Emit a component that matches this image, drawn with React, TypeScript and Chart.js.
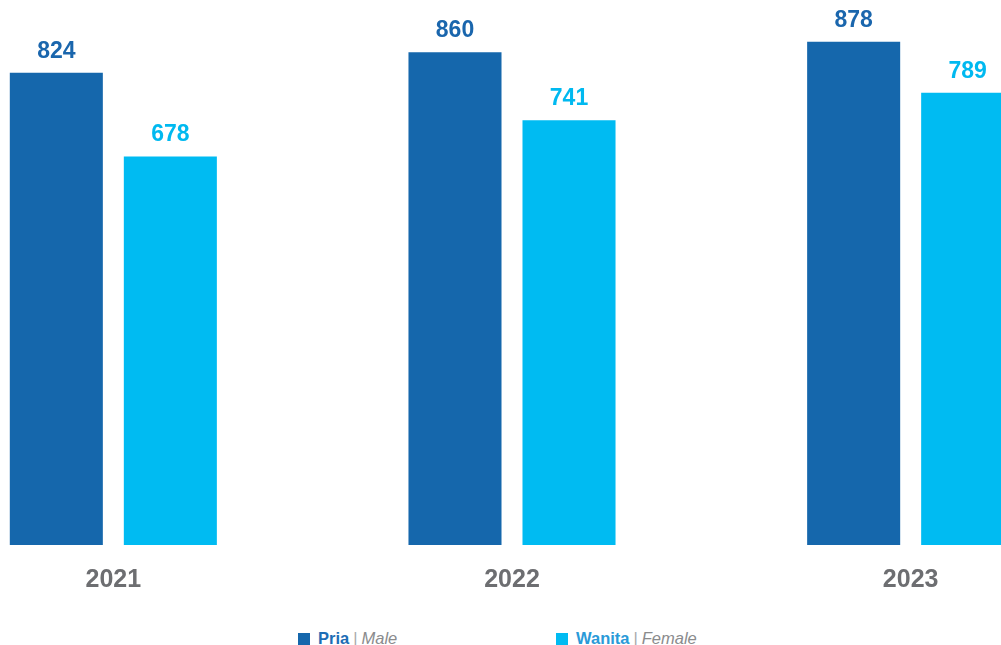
import React, { useEffect, useRef } from "react";
import { Chart, registerables } from "chart.js";

Chart.register(...registerables);

const years = ["2021", "2022", "2023"];
const maleValues = [824, 860, 878];
const femaleValues = [678, 741, 789];

const DARK = "#1567ac";
const LIGHT = "#00bbf2";

const valueLabels = {
  id: "valueLabels",
  afterDatasetsDraw(chart: any) {
    const ctx = chart.ctx;
    ctx.save();
    ctx.font = "bold 23px 'Liberation Sans', Arial, sans-serif";
    ctx.textAlign = "center";
    ctx.textBaseline = "alphabetic";
    chart.data.datasets.forEach((ds: any, i: number) => {
      const meta = chart.getDatasetMeta(i);
      ctx.fillStyle = ds.labelColor;
      meta.data.forEach((el: any, j: number) => {
        ctx.fillText(String(ds.data[j]), el.x, el.y - 15);
      });
    });
    ctx.restore();
  },
};

export default function App() {
  const ref = useRef<HTMLCanvasElement>(null);

  useEffect(() => {
    if (!ref.current) return;
    const chart = new Chart(ref.current, {
      type: "bar",
      data: {
        labels: years,
        datasets: [
          {
            label: "Pria",
            data: maleValues,
            backgroundColor: DARK,
            labelColor: "#1a66ad",
            barPercentage: 0.816,
            categoryPercentage: 0.572,
          } as any,
          {
            label: "Wanita",
            data: femaleValues,
            backgroundColor: LIGHT,
            labelColor: "#00b9f0",
            barPercentage: 0.816,
            categoryPercentage: 0.572,
          } as any,
        ],
      },
      options: {
        responsive: false,
        animation: false,
        layout: { padding: 0 },
        plugins: {
          legend: { display: false },
          tooltip: { enabled: false },
        },
        scales: {
          x: {
            grid: { display: false, drawTicks: false },
            border: { display: false },
            ticks: {
              padding: 20,
              color: "#6d6e71",
              font: { family: "'Liberation Sans', Arial, sans-serif", size: 25, weight: "bold", lineHeight: 1.2 },
            },
          },
          y: {
            display: false,
            min: 0,
            max: 951,
          },
        },
      },
      plugins: [valueLabels],
    });
    return () => chart.destroy();
  }, []);

  const font = "'Liberation Sans', Arial, sans-serif";
  const item = (left: number, color: string, textColor: string, main: string, sub: string) => (
    <div
      style={{
        position: "absolute",
        left,
        top: 628,
        height: 20,
        display: "flex",
        alignItems: "center",
        fontFamily: font,
        fontSize: 16.5,
        lineHeight: "20px",
        whiteSpace: "nowrap",
      }}
    >
      <span style={{ display: "inline-block", width: 12, height: 12, background: color, marginRight: 8, marginTop: 2 }} />
      <span style={{ fontWeight: "bold", color: textColor }}>{main}</span>
      <span style={{ color: "#a7a9ac", margin: "0 4px", fontWeight: "normal" }}>|</span>
      <span style={{ fontStyle: "italic", color: "#8a8b8d" }}>{sub}</span>
    </div>
  );

  return (
    <div style={{ position: "absolute", left: 0, top: 0, width: 1001, height: 645, overflow: "hidden", background: "#fff" }}>
      <canvas ref={ref} width={1196} height={615} style={{ position: "absolute", left: -86, top: 0 }} />
      {item(298, DARK, "#1d6db5", "Pria", "Male")}
      {item(556, LIGHT, "#2a9ad8", "Wanita", "Female")}
    </div>
  );
}
